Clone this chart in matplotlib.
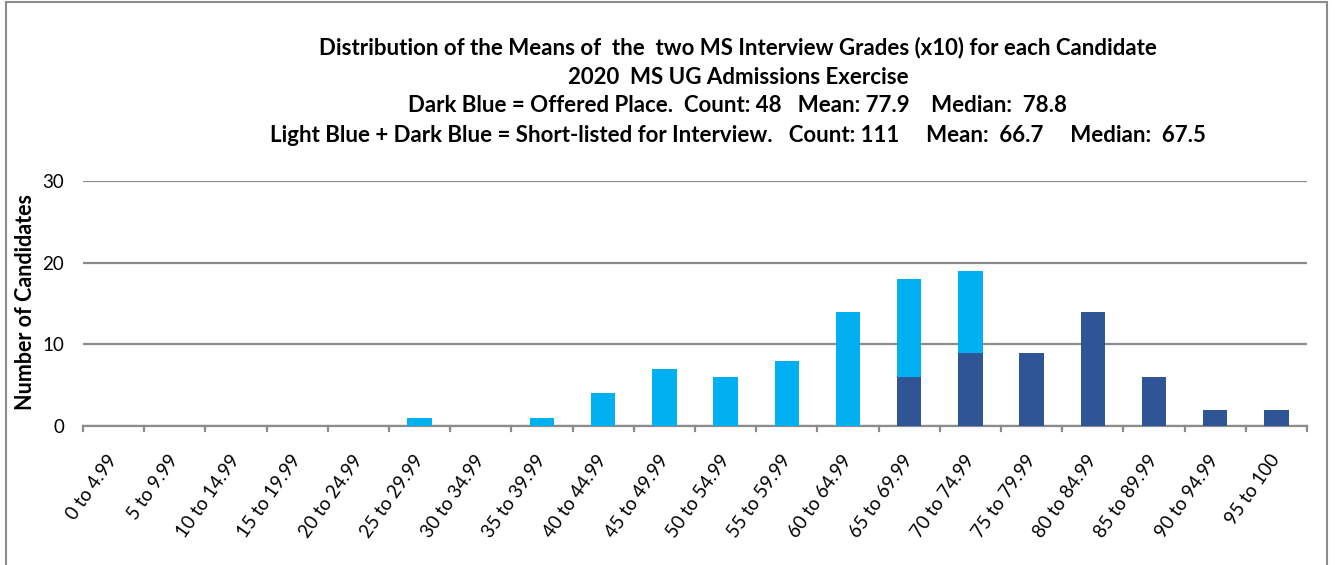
import matplotlib
matplotlib.use("Agg")
import matplotlib.pyplot as plt
from matplotlib.patches import Rectangle
import numpy as np

categories = ["0 to 4.99", "5 to 9.99", "10 to 14.99", "15 to 19.99", "20 to 24.99",
              "25 to 29.99", "30 to 34.99", "35 to 39.99", "40 to 44.99", "45 to 49.99",
              "50 to 54.99", "55 to 59.99", "60 to 64.99", "65 to 69.99", "70 to 74.99",
              "75 to 79.99", "80 to 84.99", "85 to 89.99", "90 to 94.99", "95 to 100"]
offered = [0, 0, 0, 0, 0, 0, 0, 0, 0, 0, 0, 0, 0, 6, 9, 9, 14, 6, 2, 2]
shortlisted_only = [0, 0, 0, 0, 0, 1, 0, 1, 4, 7, 6, 8, 14, 12, 10, 0, 0, 0, 0, 0]
yticks = [0, 10, 20, 30]

title_lines = [
    "Distribution of the Means of  the  two MS Interview Grades (x10) for each Candidate",
    "2020  MS UG Admissions Exercise",
    "Dark Blue = Offered Place.  Count: 48   Mean: 77.9    Median:  78.8",
    "Light Blue + Dark Blue = Short-listed for Interview.   Count: 111     Mean:  66.7     Median:  67.5",
]

dark = "#2F5597"
light = "#00B0F0"
grid = "#8C8C8C"

plt.rcParams['font.family'] = ['Lato', 'DejaVu Sans']

W, H = 1335, 565
fig = plt.figure(figsize=(W / 100, H / 100), dpi=100)
ax = fig.add_axes([83 / W, 1 - 426 / H, (1307 - 83) / W, (426 - 181) / H])

x = np.arange(len(categories))
ax.bar(x, offered, width=0.4, color=dark, zorder=3)
ax.bar(x, shortlisted_only, width=0.4, bottom=offered, color=light, zorder=3)

ax.set_xlim(-0.5, len(categories) - 0.5)
ax.set_ylim(0, 30)
ax.set_yticks(yticks)
ax.set_yticklabels([str(v) for v in yticks], fontsize=13.5)
ax.tick_params(axis='y', length=0, pad=13.5)
ax.yaxis.grid(True, color=grid, linewidth=1.6, zorder=0)
ax.set_axisbelow(True)

ax.set_xticks(x)
ax.set_xticklabels(categories, rotation=55, ha='right', va='center',
                   rotation_mode='anchor', fontsize=13.5)
ax.tick_params(axis='x', length=0, pad=22)
# boundary tick marks
for b in np.arange(-0.5, len(categories) + 0.5, 1.0):
    ax.plot([b, b], [0, -0.6], color=grid, linewidth=1.6, clip_on=False, zorder=2)

for s in ['top', 'right', 'left']:
    ax.spines[s].set_visible(False)
ax.spines['bottom'].set_color(grid)
ax.spines['bottom'].set_linewidth(1.6)

fig.text(26 / W, 1 - 302 / H, "Number of Candidates", rotation=90, ha='center', va='center',
         fontsize=15.5, fontweight='bold')

ys = [48, 77, 105, 135]
for t, yy in zip(title_lines, ys):
    fig.text(738 / W, 1 - yy / H, t, ha='center', va='center', fontsize=16, fontweight='bold')

fig.patches.append(Rectangle((6 / W, -0.05), (1327 - 6) / W, 1 - 2 / H + 0.05,
                             transform=fig.transFigure, fill=False, edgecolor="#8C8C8C",
                             linewidth=1.5))

fig.savefig("out.png", dpi=100)
